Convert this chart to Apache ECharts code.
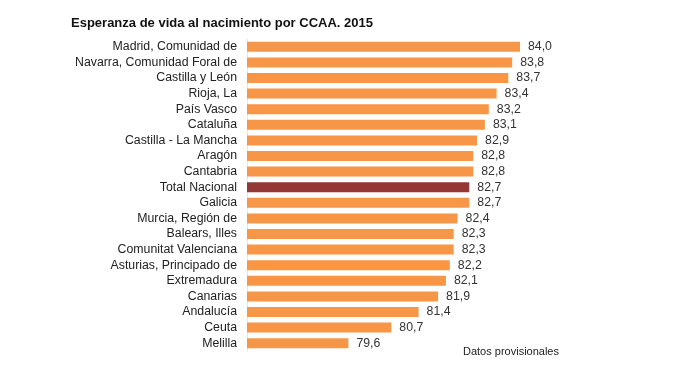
<!DOCTYPE html>
<html><head><meta charset="utf-8">
<script src="https://cdn.jsdelivr.net/npm/echarts@6/dist/echarts.min.js"></script>
<style>html,body{margin:0;padding:0;background:#fff}#c{width:700px;height:378px}</style>
</head><body><div id="c"></div>
<script>
const categories = ["Madrid, Comunidad de","Navarra, Comunidad Foral de","Castilla y León","Rioja, La","País Vasco","Cataluña","Castilla - La Mancha","Aragón","Cantabria","Total Nacional","Galicia","Murcia, Región de","Balears, Illes","Comunitat Valenciana","Asturias, Principado de","Extremadura","Canarias","Andalucía","Ceuta","Melilla"];
const values = [84.0,83.8,83.7,83.4,83.2,83.1,82.9,82.8,82.8,82.7,82.7,82.4,82.3,82.3,82.2,82.1,81.9,81.4,80.7,79.6];
const highlight = "Total Nacional";
const title = "Esperanza de vida al nacimiento por CCAA. 2015";
const note = "Datos provisionales";

const chart = echarts.init(document.getElementById('c'), null, {renderer:'canvas'});
chart.setOption({
  animation:false,
  title:{text:title,left:66,top:12,textStyle:{fontFamily:'Liberation Sans, Arial',fontSize:13,fontWeight:'bold',color:'#111'}},
  graphic:[{type:'text',left:463,top:346,style:{text:note,font:'11px Liberation Sans, Arial',fill:'#222'}}],
  grid:{left:247,top:39,width:312,height:312,containLabel:false},
  xAxis:{type:'value',min:77,max:85,show:false},
  yAxis:{type:'category',inverse:true,data:categories,
    axisLine:{show:true,lineStyle:{color:'#e6e6e6'}},axisTick:{show:false},
    axisLabel:{margin:10,fontFamily:'Liberation Sans, Arial',fontSize:12.3,color:'#222'}},
  series:[{type:'bar',barWidth:'64%',
    data:values.map((v,i)=>({value:v,itemStyle:{color:categories[i]===highlight?'#953735':'#F79646'}})),
    label:{show:true,position:'right',distance:8,fontFamily:'Liberation Sans, Arial',fontSize:12.3,color:'#333',
      formatter:p=>p.value.toFixed(1).replace('.',',')}}]
});
</script></body></html>
